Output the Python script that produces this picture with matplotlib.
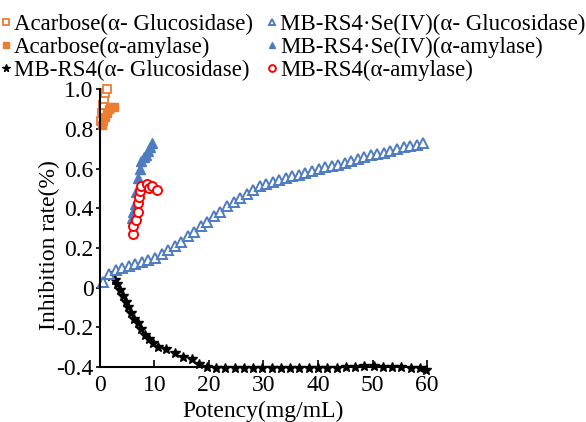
import matplotlib.pyplot as plt
import numpy as np

plt.rcParams['font.family'] = ['Liberation Serif', 'DejaVu Serif']

# Acarbose
aca_glu_x = [0.2, 0.4, 0.6, 0.8, 1.0, 1.2]
aca_glu_y = [0.84, 0.88, 0.92, 0.95, 0.98, 1.0]
aca_amy_x = [0.3, 0.6, 0.9, 1.2, 1.6, 2.0, 2.5]
aca_amy_y = [0.82, 0.84, 0.86, 0.88, 0.90, 0.91, 0.91]

# MB-RS4.Se(IV)
se_glu_x = [0.5, 1.7, 2.9, 4.1, 5.3, 6.5, 7.7, 8.9, 10.1, 11.3, 12.5, 13.7, 14.9,
            16.1, 17.3, 18.5, 19.7, 20.9, 22.1, 23.3, 24.5, 25.7, 26.9, 28.1, 29.3,
            30.5, 31.7, 32.9, 34.1, 35.3, 36.5, 37.7, 38.9, 40.1, 41.3, 42.5, 43.7,
            44.9, 46.1, 47.3, 48.5, 49.7, 50.9, 52.1, 53.3, 54.5, 55.7, 56.9, 58.1, 59.3]
se_glu_y = [0.03, 0.07, 0.09, 0.10, 0.11, 0.12, 0.13, 0.14, 0.15, 0.17, 0.19, 0.21,
            0.23, 0.26, 0.28, 0.31, 0.33, 0.36, 0.38, 0.41, 0.43, 0.45, 0.47, 0.49,
            0.51, 0.52, 0.53, 0.54, 0.55, 0.56, 0.57, 0.58, 0.59, 0.60, 0.61, 0.615,
            0.62, 0.63, 0.64, 0.65, 0.66, 0.67, 0.675, 0.68, 0.69, 0.70, 0.71, 0.715,
            0.72, 0.73]
se_amy_x = [5.8, 6.1, 6.4, 6.7, 7.0, 7.3, 7.6, 8.0, 8.4, 8.8, 9.2, 9.6]
se_amy_y = [0.35, 0.38, 0.42, 0.48, 0.55, 0.60, 0.64, 0.66, 0.67, 0.69, 0.71, 0.73]

# MB-RS4
rs_glu_x = [2.1, 2.7, 3.2, 3.7, 4.2, 4.7, 5.2, 5.7, 6.2, 7.0, 7.6, 8.3, 9.0, 9.8,
            10.7, 12.2, 13.8, 15.3, 16.8, 18.2, 19.6, 21.3, 23.0, 24.7, 26.4, 28.1,
            29.8, 31.5, 33.2, 34.9, 36.6, 38.3, 40.0, 41.7, 43.4, 45.1, 46.8, 48.5,
            50.2, 51.9, 53.6, 55.3, 57.0, 58.7, 59.8]
rs_glu_y = [0.06, 0.04, 0.02, -0.01, -0.04, -0.07, -0.10, -0.13, -0.16, -0.18, -0.21,
            -0.24, -0.26, -0.28, -0.30, -0.31, -0.33, -0.35, -0.36, -0.385, -0.40,
            -0.405, -0.405, -0.405, -0.405, -0.405, -0.405, -0.405, -0.405, -0.405,
            -0.405, -0.405, -0.405, -0.405, -0.405, -0.40, -0.40, -0.395, -0.395,
            -0.40, -0.40, -0.40, -0.405, -0.405, -0.415]
rs_amy_x = [6.0, 6.1, 6.6, 7.0, 7.0, 7.2, 7.3, 7.6, 8.6, 9.0, 9.6, 10.4]
rs_amy_y = [0.27, 0.31, 0.34, 0.38, 0.425, 0.455, 0.485, 0.51, 0.52, 0.50, 0.51, 0.49]

orange = '#ED7D31'
blue = '#4F7CC0'
fs = 17

fig = plt.figure(figsize=(5.86, 4.22), dpi=100)
ax = fig.add_axes([0.1706, 0.1303, 0.5581, 0.6584])

h1, = ax.plot(aca_glu_x, aca_glu_y, 's', mfc='white', mec=orange, mew=1.3, ms=6,
              ls='none', clip_on=False, label='Acarbose(α- Glucosidase)')
h2, = ax.plot(aca_amy_x, aca_amy_y, 's', color=orange, ms=6, ls='none',
              clip_on=False, label='Acarbose(α-amylase)')
h3, = ax.plot(rs_glu_x, rs_glu_y, '*', color='black', ms=7.5, ls='none',
              clip_on=False, label='MB-RS4(α- Glucosidase)')
h4, = ax.plot(se_glu_x, se_glu_y, '^', mfc='white', mec=blue, mew=1.4, ms=6.5,
              ls='none', clip_on=False, label='MB-RS4·Se(IV)(α- Glucosidase)')
h5, = ax.plot(se_amy_x, se_amy_y, '^', color=blue, ms=6.5, ls='none',
              clip_on=False, label='MB-RS4·Se(IV)(α-amylase)')
h6, = ax.plot(rs_amy_x, rs_amy_y, 'o', mfc='white', mec='red', mew=1.4, ms=6.5,
              ls='none', clip_on=False, label='MB-RS4(α-amylase)')

ax.set_xlim(0, 60)
ax.set_ylim(-0.4, 1.0)
ax.set_xticks(np.arange(0, 61, 10))
ax.set_yticks([-0.4, -0.2, 0, 0.2, 0.4, 0.6, 0.8, 1.0])
ax.set_yticklabels(['-0.4', '-0.2', '0', '0.2', '0.4', '0.6', '0.8', '1.0'])
ax.spines['top'].set_visible(False)
ax.spines['right'].set_visible(False)
ax.spines['left'].set_linewidth(1.5)
ax.spines['bottom'].set_linewidth(1.5)
ax.tick_params(axis='x', direction='in', length=5, width=1.2, labelsize=fs, pad=6)
ax.tick_params(axis='y', direction='out', length=3, width=1.2, labelsize=fs, pad=1.5)
ax.set_xlabel('Potency(mg/mL)', fontsize=fs, va='center')
ax.set_ylabel('Inhibition rate(%)', fontsize=fs, va='center', ha='center')
ax.xaxis.set_label_coords(0.5, -0.161)
ax.yaxis.set_label_coords(-0.153, 0.44)

fig.legend(handles=[h1, h2, h3, h4, h5, h6], loc='upper left',
           bbox_to_anchor=(-0.012, 0.99), ncol=2, frameon=False, fontsize=16.5,
           handlelength=0.3, handletextpad=0.2, columnspacing=0.7,
           labelspacing=0.08, markerscale=0.75, borderaxespad=0)

fig.savefig('out.png', dpi=100)
